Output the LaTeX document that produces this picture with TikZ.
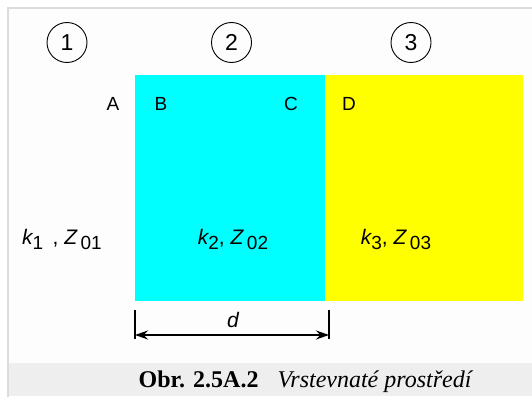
\documentclass[tikz,border=0pt]{standalone}
\usepackage{fontspec}
\setmainfont{Liberation Serif}
\setsansfont{Liberation Sans}
\definecolor{laycyan}{RGB}{0,255,255}
\definecolor{layyellow}{RGB}{255,255,0}
\definecolor{framegray}{RGB}{220,220,220}
\definecolor{capgray}{RGB}{238,238,238}
\definecolor{pagewhite}{RGB}{253,253,253}
\usetikzlibrary{arrows.meta,positioning}
\newcommand{\lowsub}[1]{\raisebox{-5pt}{\fontsize{19}{19}\selectfont #1}}

\begin{document}
\begin{tikzpicture}[x=1pt,y=-1pt,
    zone/.style={draw,circle,minimum size=40pt,inner sep=0pt,line width=0.9pt,
                 font=\sffamily\fontsize{23}{23}\selectfont},
    layer/.style={inner sep=0pt,outer sep=0pt},
    pt/.style={anchor=base,inner sep=0pt,font=\sffamily\fontsize{19}{19}\selectfont},
    medium/.style={anchor=base,inner sep=0pt,font=\sffamily\fontsize{21}{21}\selectfont},
    dimtick/.style={line width=1.4pt}]
  \useasboundingbox (0,0) rectangle (532,396);
  \clip (0,0) rectangle (532,396);

  % Page, frame and caption band
  \fill[white] (0,0) rectangle (532,396);
  \fill[pagewhite] (9,9) rectangle (532,363);
  \draw[framegray,line width=2pt] (7.7,400) -- (7.7,7.7) -- (540,7.7);
  \fill[capgray] (8.7,363) rectangle (532,396);

  % Layers
  \node[layer,fill=laycyan,minimum width=190pt,minimum height=226pt]
        (lay2) at (230,188) {};
  \node[layer,fill=layyellow,minimum width=198pt,minimum height=226pt]
        (lay3) at (424,188) {};

  % Region numbers
  \node[zone] (z1) at (67,42.5) {1};
  \node[zone] (z2) at (231.5,42.5) {2};
  \node[zone] (z3) at (411,42.5) {3};

  % Interface points
  \node[pt] (pA) at (113,110) {A};
  \node[pt] (pB) at (161,110) {B};
  \node[pt] (pC) at (291,110) {C};
  \node[pt] (pD) at (349,110) {D};

  % Media parameters
  \node[medium] (m1) at (62,244) {{\itshape k}\lowsub{1}\, , {\itshape Z}\,\lowsub{01}};
  \node[medium] (m2) at (233,244) {{\itshape k}\lowsub{2}, {\itshape Z}\,\lowsub{02}};
  \node[medium] (m3) at (396,244) {{\itshape k}\lowsub{3}, {\itshape Z}\,\lowsub{03}};

  % Thickness d
  \coordinate (dl1) at (135,310);
  \coordinate (dl2) at (135,339);
  \coordinate (dr1) at (329,310);
  \coordinate (dr2) at (329,339);
  \coordinate (al) at (135,335);
  \coordinate (ar) at (329,335);
  \draw[dimtick] (dl1) -- (dl2);
  \draw[dimtick] (dr1) -- (dr2);
  \draw[{Stealth[length=13pt,width=9pt]}-{Stealth[length=13pt,width=9pt]},line width=1.2pt]
        (al) -- (ar);
  \node[medium] (dd) at (233,327) {\itshape d};

  % Caption
  \node[anchor=base,inner sep=0pt,font=\fontsize{24}{24}\selectfont] (cap) at (306,387)
        {\textbf{Obr. 2.5A.2}\hspace{19pt}\textit{Vrstevnaté prostředí}};
\end{tikzpicture}
\end{document}
